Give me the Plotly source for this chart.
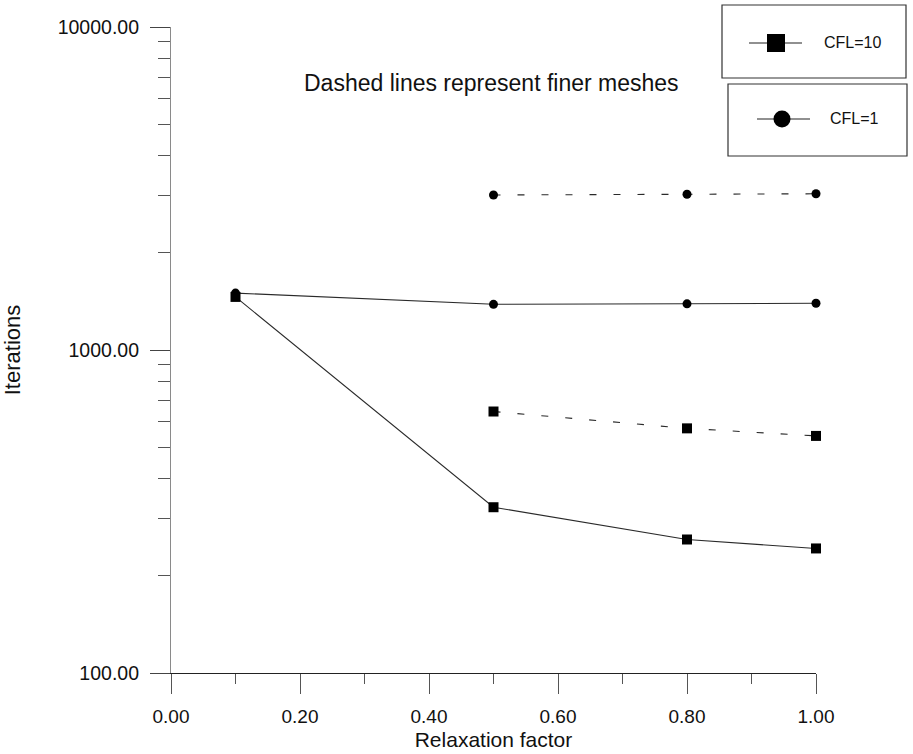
import plotly.graph_objects as go

# Relaxation factor sweep
relax_cfl1_coarse = [0.1, 0.5, 0.8, 1.0]
iters_cfl1_coarse = [1500, 1385, 1390, 1395]
relax_cfl1_fine = [0.5, 0.8, 1.0]
iters_cfl1_fine = [3020, 3035, 3045]

relax_cfl10_coarse = [0.1, 0.5, 0.8, 1.0]
iters_cfl10_coarse = [1460, 326, 259, 243]
relax_cfl10_fine = [0.5, 0.8, 1.0]
iters_cfl10_fine = [645, 572, 542]

x_ticks = [0.0, 0.2, 0.4, 0.6, 0.8, 1.0]
x_minor = [0.1, 0.3, 0.5, 0.7, 0.9]
y_ticks = [100, 1000, 10000]
y_tick_labels = ["100.00", "1000.00", "10000.00"]
y_minor = [m * d for d in (100, 1000) for m in range(2, 10)]

FONT = "Liberation Sans, Arial, Helvetica, sans-serif"
INK = "#111111"
LINE = "#2a2a2a"

W, H = 913, 754
ML, MR, MT, MB = 171, 97, 27, 81
PW, PH = W - ML - MR, H - MT - MB


def px(x):
    return (x - ML) / PW


def py(y):
    return 1 - (y - MT) / PH


fig = go.Figure()

series = [
    (relax_cfl1_coarse, iters_cfl1_coarse, "circle", 9, "solid"),
    (relax_cfl1_fine, iters_cfl1_fine, "circle", 9, "7px,17px"),
    (relax_cfl10_coarse, iters_cfl10_coarse, "square", 10, "solid"),
    (relax_cfl10_fine, iters_cfl10_fine, "square", 10, "7px,17px"),
]
for xs, ys, sym, size, dash in series:
    fig.add_trace(go.Scatter(
        x=xs, y=ys, mode="lines+markers",
        line=dict(color=LINE, width=1.1, dash=dash),
        marker=dict(symbol=sym, size=size, color="#000000", line=dict(width=0)),
        cliponaxis=False, showlegend=False, hoverinfo="x+y",
    ))

# Legend boxes, drawn as framed panels in the top-right corner
shapes = []
annotations = []
legend_items = [
    # (box x0, y0, x1, y1, sample y, line x0, line x1, marker cx, text x, label, kind)
    (722, 5, 906, 78, 43, 749, 802, 776, 822, "CFL=10", "square"),
    (728, 84, 907, 156, 119, 757, 810, 782, 828, "CFL=1", "circle"),
]
for bx0, by0, bx1, by1, sy, lx0, lx1, cx, tx, label, kind in legend_items:
    shapes.append(dict(type="rect", xref="paper", yref="paper",
                       x0=px(bx0), y0=py(by0), x1=px(bx1), y1=py(by1),
                       line=dict(color="#333333", width=1.2), fillcolor="white",
                       layer="above"))
    shapes.append(dict(type="line", xref="paper", yref="paper",
                       x0=px(lx0), y0=py(sy), x1=px(lx1), y1=py(sy),
                       line=dict(color="#222222", width=1.2), layer="above"))
    r = 9 if kind == "square" else 8.5
    shapes.append(dict(type="rect" if kind == "square" else "circle",
                       xref="paper", yref="paper",
                       x0=px(cx - r), y0=py(sy + r), x1=px(cx + r), y1=py(sy - r),
                       line=dict(color="#000000", width=0), fillcolor="#000000",
                       layer="above"))
    annotations.append(dict(xref="paper", yref="paper", x=px(tx), y=py(sy),
                            xanchor="left", yanchor="middle", text=label,
                            showarrow=False, font=dict(size=16, color=INK, family=FONT)))

annotations.append(dict(xref="paper", yref="paper", x=px(491), y=py(83),
                        xanchor="center", yanchor="middle",
                        text="Dashed lines represent finer meshes", showarrow=False,
                        font=dict(size=23, color=INK, family=FONT)))

fig.update_layout(
    width=W, height=H,
    margin=dict(l=ML, r=MR, t=MT, b=MB, pad=0, autoexpand=False),
    paper_bgcolor="white", plot_bgcolor="white",
    font=dict(family=FONT, color=INK),
    shapes=shapes, annotations=annotations,
)

fig.update_xaxes(
    range=[0, 1], tickmode="array", tickvals=x_ticks,
    ticktext=[f"{v:.2f}" for v in x_ticks],
    ticks="outside", ticklen=20, tickcolor="#555555", tickwidth=1,
    showline=True, linecolor="#222222", linewidth=1.4,
    showgrid=False, zeroline=False, automargin=False,
    minor=dict(tickmode="array", tickvals=x_minor, ticks="outside",
               ticklen=10, tickcolor="#555555", tickwidth=1, showgrid=False),
    tickfont=dict(size=19, color=INK), ticklabelstandoff=6,
    title=dict(text="Relaxation factor", font=dict(size=21, color=INK), standoff=6),
)

fig.update_yaxes(
    type="log", range=[2, 4], tickmode="array", tickvals=y_ticks,
    ticktext=y_tick_labels,
    ticks="outside", ticklen=20, tickcolor="#444444", tickwidth=1,
    showline=True, linecolor="#8a8a8a", linewidth=1.2,
    showgrid=False, zeroline=False, automargin=False,
    minor=dict(tickmode="array", tickvals=y_minor, ticks="outside",
               ticklen=12, tickcolor="#555555", tickwidth=1, showgrid=False),
    tickfont=dict(size=19.5, color=INK), ticklabelstandoff=7,
    title=dict(text="Iterations", font=dict(size=22, color=INK), standoff=30),
)

fig.write_html("out.html")
